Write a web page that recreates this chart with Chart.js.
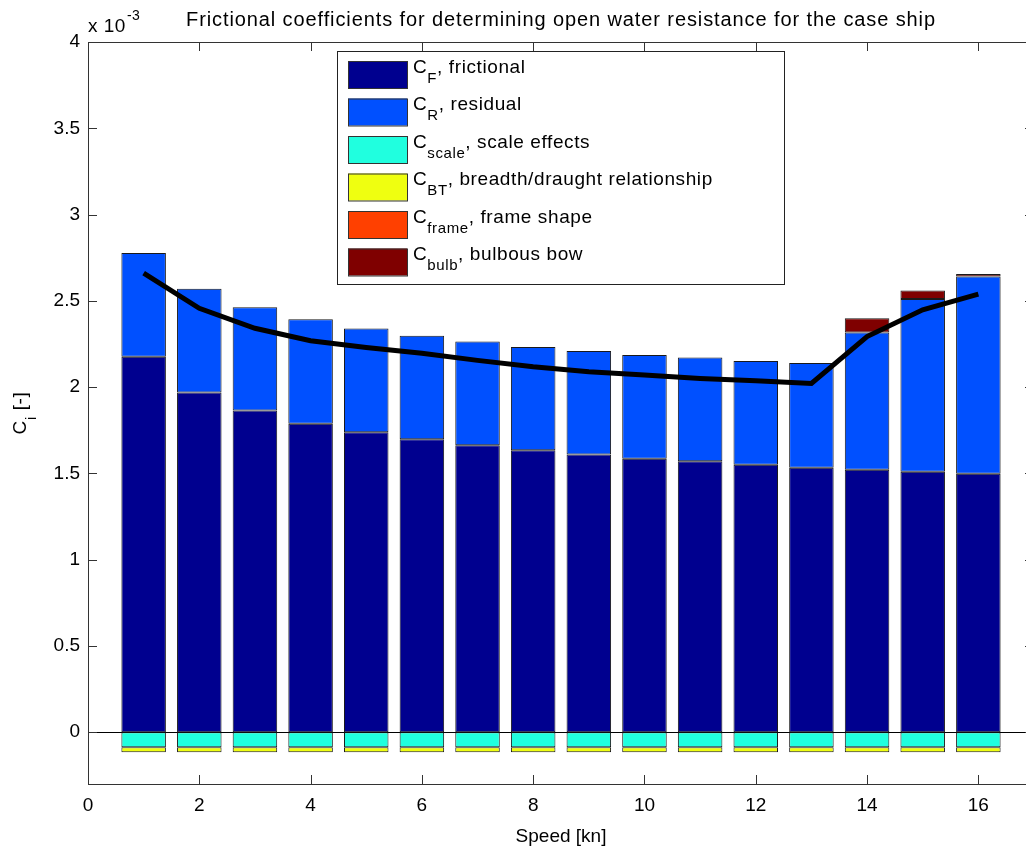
<!DOCTYPE html>
<html>
<head>
<meta charset="utf-8">
<script src="https://cdn.jsdelivr.net/npm/chart.js@4.4.1/dist/chart.umd.min.js"></script>
<style>
  html, body { margin: 0; padding: 0; background: #fff; overflow: hidden; }
  #wrap { width: 1026px; height: 850px; overflow: hidden; }
</style>
</head>
<body>
<div id="wrap"><canvas id="chart" width="1040" height="850"></canvas></div>
<script>
// speed [kn] and the coefficient parts, all in units of 1e-3
var speeds = [1, 2, 3, 4, 5, 6, 7, 8, 9, 10, 11, 12, 13, 14, 15, 16];
var cFrictional = [2.176, 1.969, 1.864, 1.787, 1.738, 1.698, 1.663, 1.634, 1.609, 1.585, 1.570, 1.550, 1.533, 1.521, 1.510, 1.498];
var cResidual = [0.601, 0.601, 0.599, 0.606, 0.601, 0.600, 0.601, 0.599, 0.600, 0.601, 0.601, 0.601, 0.607, 0.795, 1.000, 1.143];
var cScale = [-0.087, -0.087, -0.087, -0.087, -0.087, -0.087, -0.087, -0.087, -0.087, -0.087, -0.087, -0.087, -0.087, -0.087, -0.087, -0.087];
var cBT = [-0.029, -0.029, -0.029, -0.029, -0.029, -0.029, -0.029, -0.029, -0.029, -0.029, -0.029, -0.029, -0.029, -0.029, -0.029, -0.029];
var cFrame = [0, 0, 0, 0, 0, 0, 0, 0, 0, 0, 0, 0, 0, 0, 0, 0];
var cBulb = [0, 0, 0, 0, 0, 0, 0, 0, 0, 0, 0, 0, 0, 0.083, 0.050, 0.014];
var cTotal = [2.661, 2.457, 2.341, 2.269, 2.229, 2.196, 2.155, 2.118, 2.089, 2.070, 2.050, 2.037, 2.021, 2.293, 2.448, 2.539];

var seriesLabels = ['C_F, frictional', 'C_R, residual', 'C_scale, scale effects',
    'C_BT, breadth/draught relationship', 'C_frame, frame shape', 'C_bulb, bulbous bow'];
var seriesColors = ['#00008F', '#0050FF', '#20FFDF', '#EFFF10', '#FF4000', '#7F0000'];

var xTicks = [0, 2, 4, 6, 8, 10, 12, 14, 16];
var yTicks = [0, 0.5, 1, 1.5, 2, 2.5, 3, 3.5, 4];

var FONT = '"Liberation Sans", Arial, Helvetica, sans-serif';

function points(values) {
    return speeds.map(function(s, i) { return { x: s, y: values[i] }; });
}

var barSeries = [cFrictional, cResidual, cScale, cBT, cFrame, cBulb];
var datasets = barSeries.map(function(vals, i) {
    return {
        type: 'bar',
        label: seriesLabels[i],
        data: points(vals),
        backgroundColor: seriesColors[i],
        borderColor: '#1a1a1a',
        borderWidth: 1,
        borderSkipped: false,
        barPercentage: 0.8,
        categoryPercentage: 1.0,
        stack: 'bars',
        order: 1
    };
});
datasets.push({
    type: 'line',
    label: 'total',
    data: points(cTotal),
    borderColor: '#000',
    borderWidth: 5,
    pointRadius: 0,
    tension: 0,
    fill: false,
    stack: 'line',
    order: 0
});

// matlab style frame, inward ticks, zero line, title, legend
var matlabLook = {
    id: 'matlabLook',
    beforeDatasetsDraw: function(chart) {
        var ctx = chart.ctx, a = chart.chartArea;
        var y0 = Math.round(chart.scales.y.getPixelForValue(0)) + 0.5;
        ctx.save();
        ctx.strokeStyle = '#000';
        ctx.lineWidth = 1;
        ctx.beginPath();
        ctx.moveTo(a.left, y0);
        ctx.lineTo(a.right, y0);
        ctx.stroke();
        ctx.restore();
    },
    afterDraw: function(chart) {
        var ctx = chart.ctx, a = chart.chartArea;
        var xs = chart.scales.x, ys = chart.scales.y;
        ctx.save();
        ctx.strokeStyle = '#333';
        ctx.lineWidth = 1;
        ctx.strokeRect(a.left + 0.5, a.top + 0.5, a.right - a.left, a.bottom - a.top);
        ctx.beginPath();
        xs.ticks.forEach(function(t) {
            var px = Math.round(xs.getPixelForValue(t.value)) + 0.5;
            ctx.moveTo(px, a.bottom); ctx.lineTo(px, a.bottom - 9);
            ctx.moveTo(px, a.top); ctx.lineTo(px, a.top + 9);
        });
        ys.ticks.forEach(function(t) {
            var py = Math.round(ys.getPixelForValue(t.value)) + 0.5;
            ctx.moveTo(a.left, py); ctx.lineTo(a.left + 9, py);
            ctx.moveTo(a.right, py); ctx.lineTo(a.right - 9, py);
        });
        ctx.stroke();

        ctx.fillStyle = '#000';
        ctx.textBaseline = 'alphabetic';

        // title
        ctx.font = '20px ' + FONT;
        ctx.letterSpacing = '0.9px';
        ctx.textAlign = 'center';
        ctx.fillText('Frictional coefficients for determining open water resistance for the case ship',
            (a.left + a.right) / 2, 26);

        // exponent
        ctx.letterSpacing = '0.5px';
        ctx.textAlign = 'left';
        ctx.font = '19px ' + FONT;
        ctx.fillText('x 10', a.left, 32);
        var w = ctx.measureText('x 10').width;
        ctx.font = '14px ' + FONT;
        ctx.fillText('-3', a.left + w + 1, 20);

        // y title, rotated
        ctx.letterSpacing = '0.6px';
        ctx.save();
        ctx.translate(26, (a.top + a.bottom) / 2);
        ctx.rotate(-Math.PI / 2);
        drawSubText(ctx, 'C_i [-]', 0, 0, 'center');
        ctx.restore();

        // legend
        var lx = 337, ly = 51, lw = 447, lh = 233, pitch = 37.5;
        ctx.fillStyle = '#fff';
        ctx.fillRect(lx, ly, lw, lh);
        ctx.strokeStyle = '#222';
        ctx.strokeRect(lx + 0.5, ly + 0.5, lw, lh);
        chart.data.datasets.forEach(function(ds, i) {
            if (ds.type !== 'bar') return;
            var top = ly + 10 + i * pitch;
            ctx.fillStyle = ds.backgroundColor;
            ctx.fillRect(348, top, 59, 27);
            ctx.strokeStyle = '#333';
            ctx.strokeRect(348.5, top + 0.5, 59, 27);
            ctx.fillStyle = '#000';
            drawSubText(ctx, ds.label, 413, top + 11.5, 'left');
        });
        ctx.restore();
    }
};

// draws "C_sub rest" with a real subscript
function drawSubText(ctx, label, x, baseline, align) {
    var m = label.match(/^C_(\S+?)(,|\s)(.*)$/);
    var main = 'C', sub = m[1], rest = m[2] + m[3];
    ctx.font = '19px ' + FONT;
    var w1 = ctx.measureText(main).width;
    var w3 = ctx.measureText(rest).width;
    ctx.font = '15px ' + FONT;
    var w2 = ctx.measureText(sub).width;
    var x0 = align === 'center' ? x - (w1 + w2 + w3) / 2 : x;
    ctx.textAlign = 'left';
    ctx.font = '19px ' + FONT;
    ctx.fillText(main, x0, baseline);
    ctx.font = '15px ' + FONT;
    ctx.fillText(sub, x0 + w1, baseline + 10);
    ctx.font = '19px ' + FONT;
    ctx.fillText(rest, x0 + w1 + w2, baseline);
}

new Chart(document.getElementById('chart'), {
    type: 'bar',
    data: { datasets: datasets },
    plugins: [matlabLook],
    options: {
        responsive: false,
        animation: false,
        layout: { padding: { top: 42, right: 6, left: 0, bottom: 0 } },
        plugins: {
            legend: { display: false },
            tooltip: { enabled: false },
            title: { display: false }
        },
        scales: {
            x: {
                type: 'linear',
                min: 0,
                max: 17,
                stacked: true,
                offset: false,
                afterBuildTicks: function(scale) {
                    scale.ticks = xTicks.map(function(v) { return { value: v }; });
                },
                afterFit: function(scale) { scale.height = 66; },
                grid: { display: false, drawTicks: false },
                border: { display: false },
                ticks: {
                    color: '#000',
                    font: { family: FONT, size: 19 },
                    padding: 10,
                    maxRotation: 0,
                    callback: function(v) { return String(v); }
                },
                title: {
                    display: true,
                    text: 'Speed [kn]',
                    color: '#000',
                    font: { family: FONT, size: 19 },
                    padding: { top: 0, bottom: 2 }
                }
            },
            y: {
                type: 'linear',
                min: -0.3,
                max: 4,
                stacked: true,
                afterBuildTicks: function(scale) {
                    scale.ticks = yTicks.map(function(v) { return { value: v }; });
                },
                afterFit: function(scale) { scale.width = 88; },
                grid: { display: false, drawTicks: false },
                border: { display: false },
                ticks: {
                    color: '#000',
                    font: { family: FONT, size: 19 },
                    padding: 8,
                    callback: function(v) { return String(v); }
                }
            }
        }
    }
});
</script>
</body>
</html>
